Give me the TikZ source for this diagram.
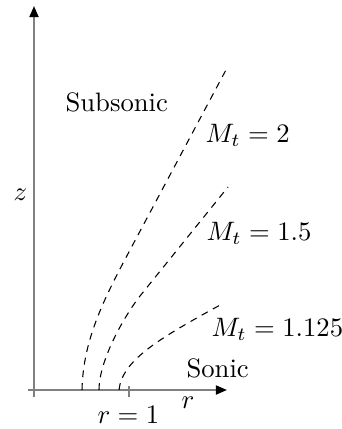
\documentclass[tikz,border=0pt]{standalone}
\usetikzlibrary{arrows.meta}
\begin{document}
\begin{tikzpicture}[x=0.375pt,y=-0.375pt,
  axisline/.style={draw=black!50,line width=0.75pt},
  axisarrow/.style={axisline,-{Triangle[length=4.2pt,width=3.4pt,color=black]}},
  machline/.style={draw=black,line width=0.4pt,dash pattern=on 2.6pt off 2.2pt},
  lbl/.style={inner sep=0pt,anchor=base west,font=\fontsize{10}{12}\selectfont}]
\useasboundingbox (0,0) rectangle (341,429);
% axes
\coordinate (zbot) at (34,397);
\coordinate (ztop) at (34,6);
\coordinate (rleft) at (28,390);
\coordinate (rright) at (227,390);
\coordinate (tickA) at (129,386);
\coordinate (tickB) at (129,397);
\draw[axisarrow] (zbot) -- (ztop);
\draw[axisarrow] (rleft) -- (rright);
\draw[axisline] (tickA) -- (tickB);
% curves
\coordinate (a0) at (82,390);
\coordinate (a1) at (130,250);
\coordinate (a2) at (227,68);
\coordinate (b0) at (99,390);
\coordinate (b1) at (140,296);
\coordinate (b2) at (228,187);
\coordinate (c0) at (119,390);
\coordinate (c1) at (222,304);
\draw[machline] (a0) .. controls (83,340) and (104,298.6) .. (a1) -- (a2);
\draw[machline] (b0) .. controls (99,360) and (124.6,315.7) .. (b1) -- (b2);
\draw[machline] (c0) .. controls (122,360) and (160,338) .. (c1);
% labels
\node[lbl] (sub) at (65,112) {Subsonic};
\node[lbl] (m2) at (205,143) {$M_t = 2$};
\node[lbl] (m15) at (206,241) {$M_t = 1.5$};
\node[lbl] (m1125) at (211,336) {$M_t = 1.125$};
\node[lbl] (son) at (186,377) {Sonic};
\node[lbl] (zl) at (13,201) {$z$};
\node[lbl] (rl) at (181,408) {$r$};
\node[lbl] (r1) at (97,423) {$r = 1$};
\end{tikzpicture}
\end{document}
